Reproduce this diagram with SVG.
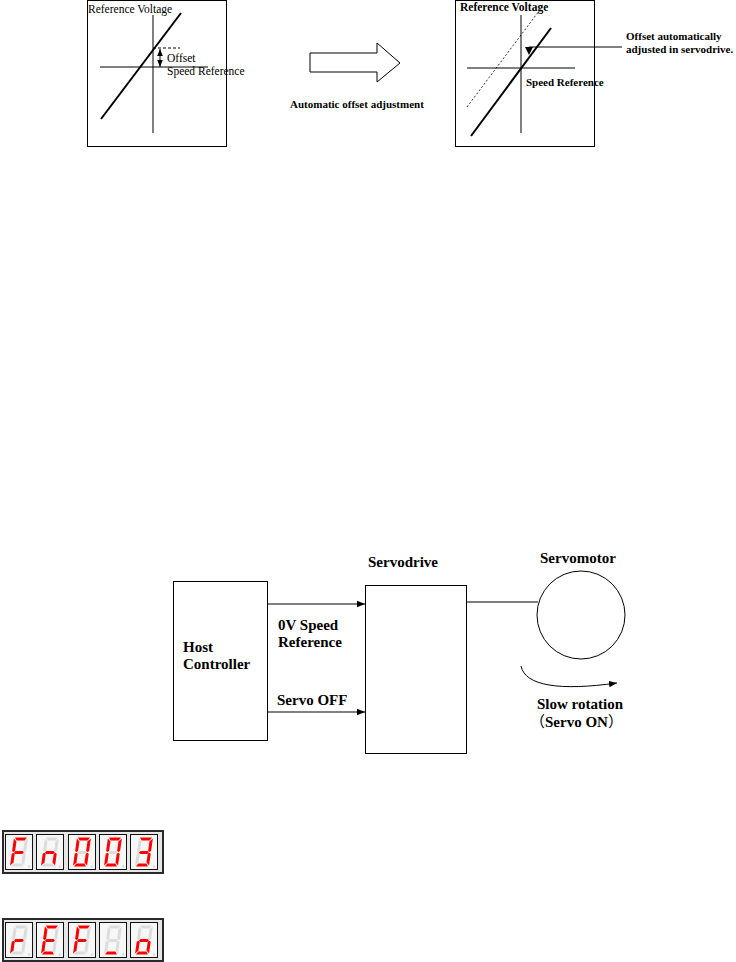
<svg xmlns="http://www.w3.org/2000/svg" xmlns:xlink="http://www.w3.org/1999/xlink" width="736" height="962" viewBox="0 0 736 962">
<style>
.t{font-family:"Liberation Serif","Noto Sans CJK SC",serif;fill:#000}
.b{font-weight:bold}
.cjk{font-family:"Noto Sans CJK SC",sans-serif;font-weight:normal}
.ln{stroke:#000;stroke-width:1;fill:none}
.box{stroke:#000;stroke-width:1;fill:#fff}
.frame{fill:#e6e6e6;stroke:#2a2a2a;stroke-width:2}
.dbox{fill:#f7f7f7;stroke:#111;stroke-width:1}
.off{fill:#dcdcdc}
.on{fill:#ff0000}
</style>
<defs>
<marker id="ah" viewBox="0 0 10 10" refX="10" refY="5" markerWidth="8" markerHeight="8" markerUnits="userSpaceOnUse" orient="auto">
<path d="M0,1 L10,5 L0,9 Z" fill="#000"/>
</marker>
<marker id="ahs" viewBox="0 0 10 10" refX="10" refY="5" markerWidth="7" markerHeight="7" markerUnits="userSpaceOnUse" orient="auto-start-reverse">
<path d="M0,1 L10,5 L0,9 Z" fill="#000"/>
</marker>
<path id="sa" transform="skewX(-8)" d="M10.5,3.5 H22.5 L20.5,6.5 H12.5 Z"/>
<path id="sb" transform="skewX(-8)" d="M23.5,4.5 V17 L22,18 L20.5,17 V7.5 Z"/>
<path id="sc" transform="skewX(-8)" d="M22,18.8 L23.5,19.8 V31.5 L20.5,28.5 V19.8 Z"/>
<path id="sd" transform="skewX(-8)" d="M12.5,29.5 H20.5 L22.5,32.5 H10.5 Z"/>
<path id="se" transform="skewX(-8)" d="M9.5,19.8 L11,18.8 L12.5,19.8 V28.5 L9.5,31.5 Z"/>
<path id="sf" transform="skewX(-8)" d="M9.5,4.5 L12.5,7.5 V17 L11,18 L9.5,17 Z"/>
<path id="sg" transform="skewX(-8)" d="M11.5,18.4 L13,16.9 H20 L21.5,18.4 L20,19.9 H13 Z"/>
<circle id="sp" cx="24" cy="32.5" r="1.3"/>
<rect id="dbx" class="dbox" x="0.5" y="0.5" width="27" height="35"/>
</defs>

<g id="chart-before">
<rect class="ln" x="87.5" y="0.5" width="139" height="146"/>
<line class="ln" x1="100" y1="67" x2="208" y2="67"/>
<line class="ln" x1="153" y1="15" x2="153" y2="133"/>
<line x1="101" y1="119" x2="181" y2="13" stroke="#000" stroke-width="2"/>
<line x1="153" y1="48" x2="180" y2="48" stroke="#000" stroke-width="1" stroke-dasharray="3,2"/>
<line x1="160" y1="49" x2="160" y2="67" stroke="#000" stroke-width="1" marker-start="url(#ahs)" marker-end="url(#ahs)"/>
<text class="t" x="88" y="13" font-size="11.5">Reference Voltage</text>
<text class="t" x="167" y="62" font-size="11.5">Offset</text>
<text class="t" x="167" y="75" font-size="11.5">Speed Reference</text>
</g>

<g id="adjust-arrow">
<polygon class="box" points="310,53 377,53 377,43 400,63 377,82 377,72 310,72"/>
<text class="t b" x="290" y="108" font-size="11">Automatic offset adjustment</text>
</g>

<g id="chart-after">
<rect class="ln" x="455.5" y="0.5" width="139" height="146"/>
<line class="ln" x1="467" y1="68" x2="575" y2="68"/>
<line class="ln" x1="521" y1="15" x2="521" y2="133"/>
<line x1="467" y1="107" x2="542" y2="7" stroke="#000" stroke-width="0.8" stroke-dasharray="2,2"/>
<line x1="471" y1="136" x2="551" y2="28" stroke="#000" stroke-width="2"/>
<line class="ln" x1="529" y1="47" x2="622" y2="47"/>
<polygon points="525,47 533,47 529,55" fill="#000"/>
<text class="t b" x="460" y="11" font-size="11.5">Reference Voltage</text>
<text class="t b" x="526" y="86" font-size="11">Speed Reference</text>
<text class="t b" x="626" y="40" font-size="11">Offset automatically</text>
<text class="t b" x="626" y="53" font-size="11">adjusted in servodrive.</text>
</g>

<g id="host-controller">
<rect class="box" x="173.5" y="581.5" width="94" height="159"/>
<text class="t b" x="183" y="652" font-size="15">Host</text>
<text class="t b" x="183" y="669" font-size="15">Controller</text>
</g>

<g id="servodrive">
<rect class="box" x="365.5" y="585.5" width="101" height="168"/>
<text class="t b" x="368" y="567" font-size="15">Servodrive</text>
</g>

<g id="servomotor">
<circle class="ln" cx="581" cy="615" r="44"/>
<text class="t b" x="540" y="563" font-size="15">Servomotor</text>
<text class="t b" x="537" y="709" font-size="15">Slow rotation</text>
<text class="t b" x="530" y="727" font-size="15"><tspan class="cjk">（</tspan>Servo ON<tspan class="cjk">）</tspan></text>
</g>

<g id="connectors">
<line class="ln" x1="267" y1="604" x2="365" y2="604" marker-end="url(#ah)"/>
<line class="ln" x1="267" y1="712" x2="365" y2="712" marker-end="url(#ah)"/>
<line class="ln" x1="466" y1="602" x2="538" y2="602"/>
<path class="ln" d="M521,666 C525,686 560,691 617,683" marker-end="url(#ah)"/>
<text class="t b" x="278" y="630" font-size="15">0V Speed</text>
<text class="t b" x="278" y="647" font-size="15">Reference</text>
<text class="t b" x="277" y="705" font-size="15">Servo OFF</text>
</g>

<g id="display-fn003">
<rect class="frame" x="3" y="831" width="160" height="42"/>
<g transform="translate(5,834)"><use href="#dbx"/><use href="#sa" class="on"/><use href="#sb" class="off"/><use href="#sc" class="off"/><use href="#sd" class="off"/><use href="#se" class="on"/><use href="#sf" class="on"/><use href="#sg" class="on"/><use href="#sp" class="off"/></g>
<g transform="translate(36,834)"><use href="#dbx"/><use href="#sa" class="off"/><use href="#sb" class="off"/><use href="#sc" class="on"/><use href="#sd" class="off"/><use href="#se" class="on"/><use href="#sf" class="off"/><use href="#sg" class="on"/><use href="#sp" class="off"/></g>
<g transform="translate(68,834)"><use href="#dbx"/><use href="#sa" class="on"/><use href="#sb" class="on"/><use href="#sc" class="on"/><use href="#sd" class="on"/><use href="#se" class="on"/><use href="#sf" class="on"/><use href="#sg" class="off"/><use href="#sp" class="off"/></g>
<g transform="translate(99,834)"><use href="#dbx"/><use href="#sa" class="on"/><use href="#sb" class="on"/><use href="#sc" class="on"/><use href="#sd" class="on"/><use href="#se" class="on"/><use href="#sf" class="on"/><use href="#sg" class="off"/><use href="#sp" class="off"/></g>
<g transform="translate(130,834)"><use href="#dbx"/><use href="#sa" class="on"/><use href="#sb" class="on"/><use href="#sc" class="on"/><use href="#sd" class="on"/><use href="#se" class="off"/><use href="#sf" class="off"/><use href="#sg" class="on"/><use href="#sp" class="off"/></g>
</g>

<g id="display-ref-o">
<rect class="frame" x="3" y="919" width="160" height="42"/>
<g transform="translate(5,922)"><use href="#dbx"/><use href="#sa" class="off"/><use href="#sb" class="off"/><use href="#sc" class="off"/><use href="#sd" class="off"/><use href="#se" class="on"/><use href="#sf" class="off"/><use href="#sg" class="on"/><use href="#sp" class="off"/></g>
<g transform="translate(36,922)"><use href="#dbx"/><use href="#sa" class="on"/><use href="#sb" class="off"/><use href="#sc" class="off"/><use href="#sd" class="on"/><use href="#se" class="on"/><use href="#sf" class="on"/><use href="#sg" class="on"/><use href="#sp" class="off"/></g>
<g transform="translate(68,922)"><use href="#dbx"/><use href="#sa" class="on"/><use href="#sb" class="off"/><use href="#sc" class="off"/><use href="#sd" class="off"/><use href="#se" class="on"/><use href="#sf" class="on"/><use href="#sg" class="on"/><use href="#sp" class="off"/></g>
<g transform="translate(99,922)"><use href="#dbx"/><use href="#sa" class="off"/><use href="#sb" class="off"/><use href="#sc" class="off"/><use href="#sd" class="on"/><use href="#se" class="off"/><use href="#sf" class="off"/><use href="#sg" class="off"/><use href="#sp" class="off"/></g>
<g transform="translate(130,922)"><use href="#dbx"/><use href="#sa" class="off"/><use href="#sb" class="off"/><use href="#sc" class="on"/><use href="#sd" class="on"/><use href="#se" class="on"/><use href="#sf" class="off"/><use href="#sg" class="on"/><use href="#sp" class="off"/></g>
</g>
</svg>
